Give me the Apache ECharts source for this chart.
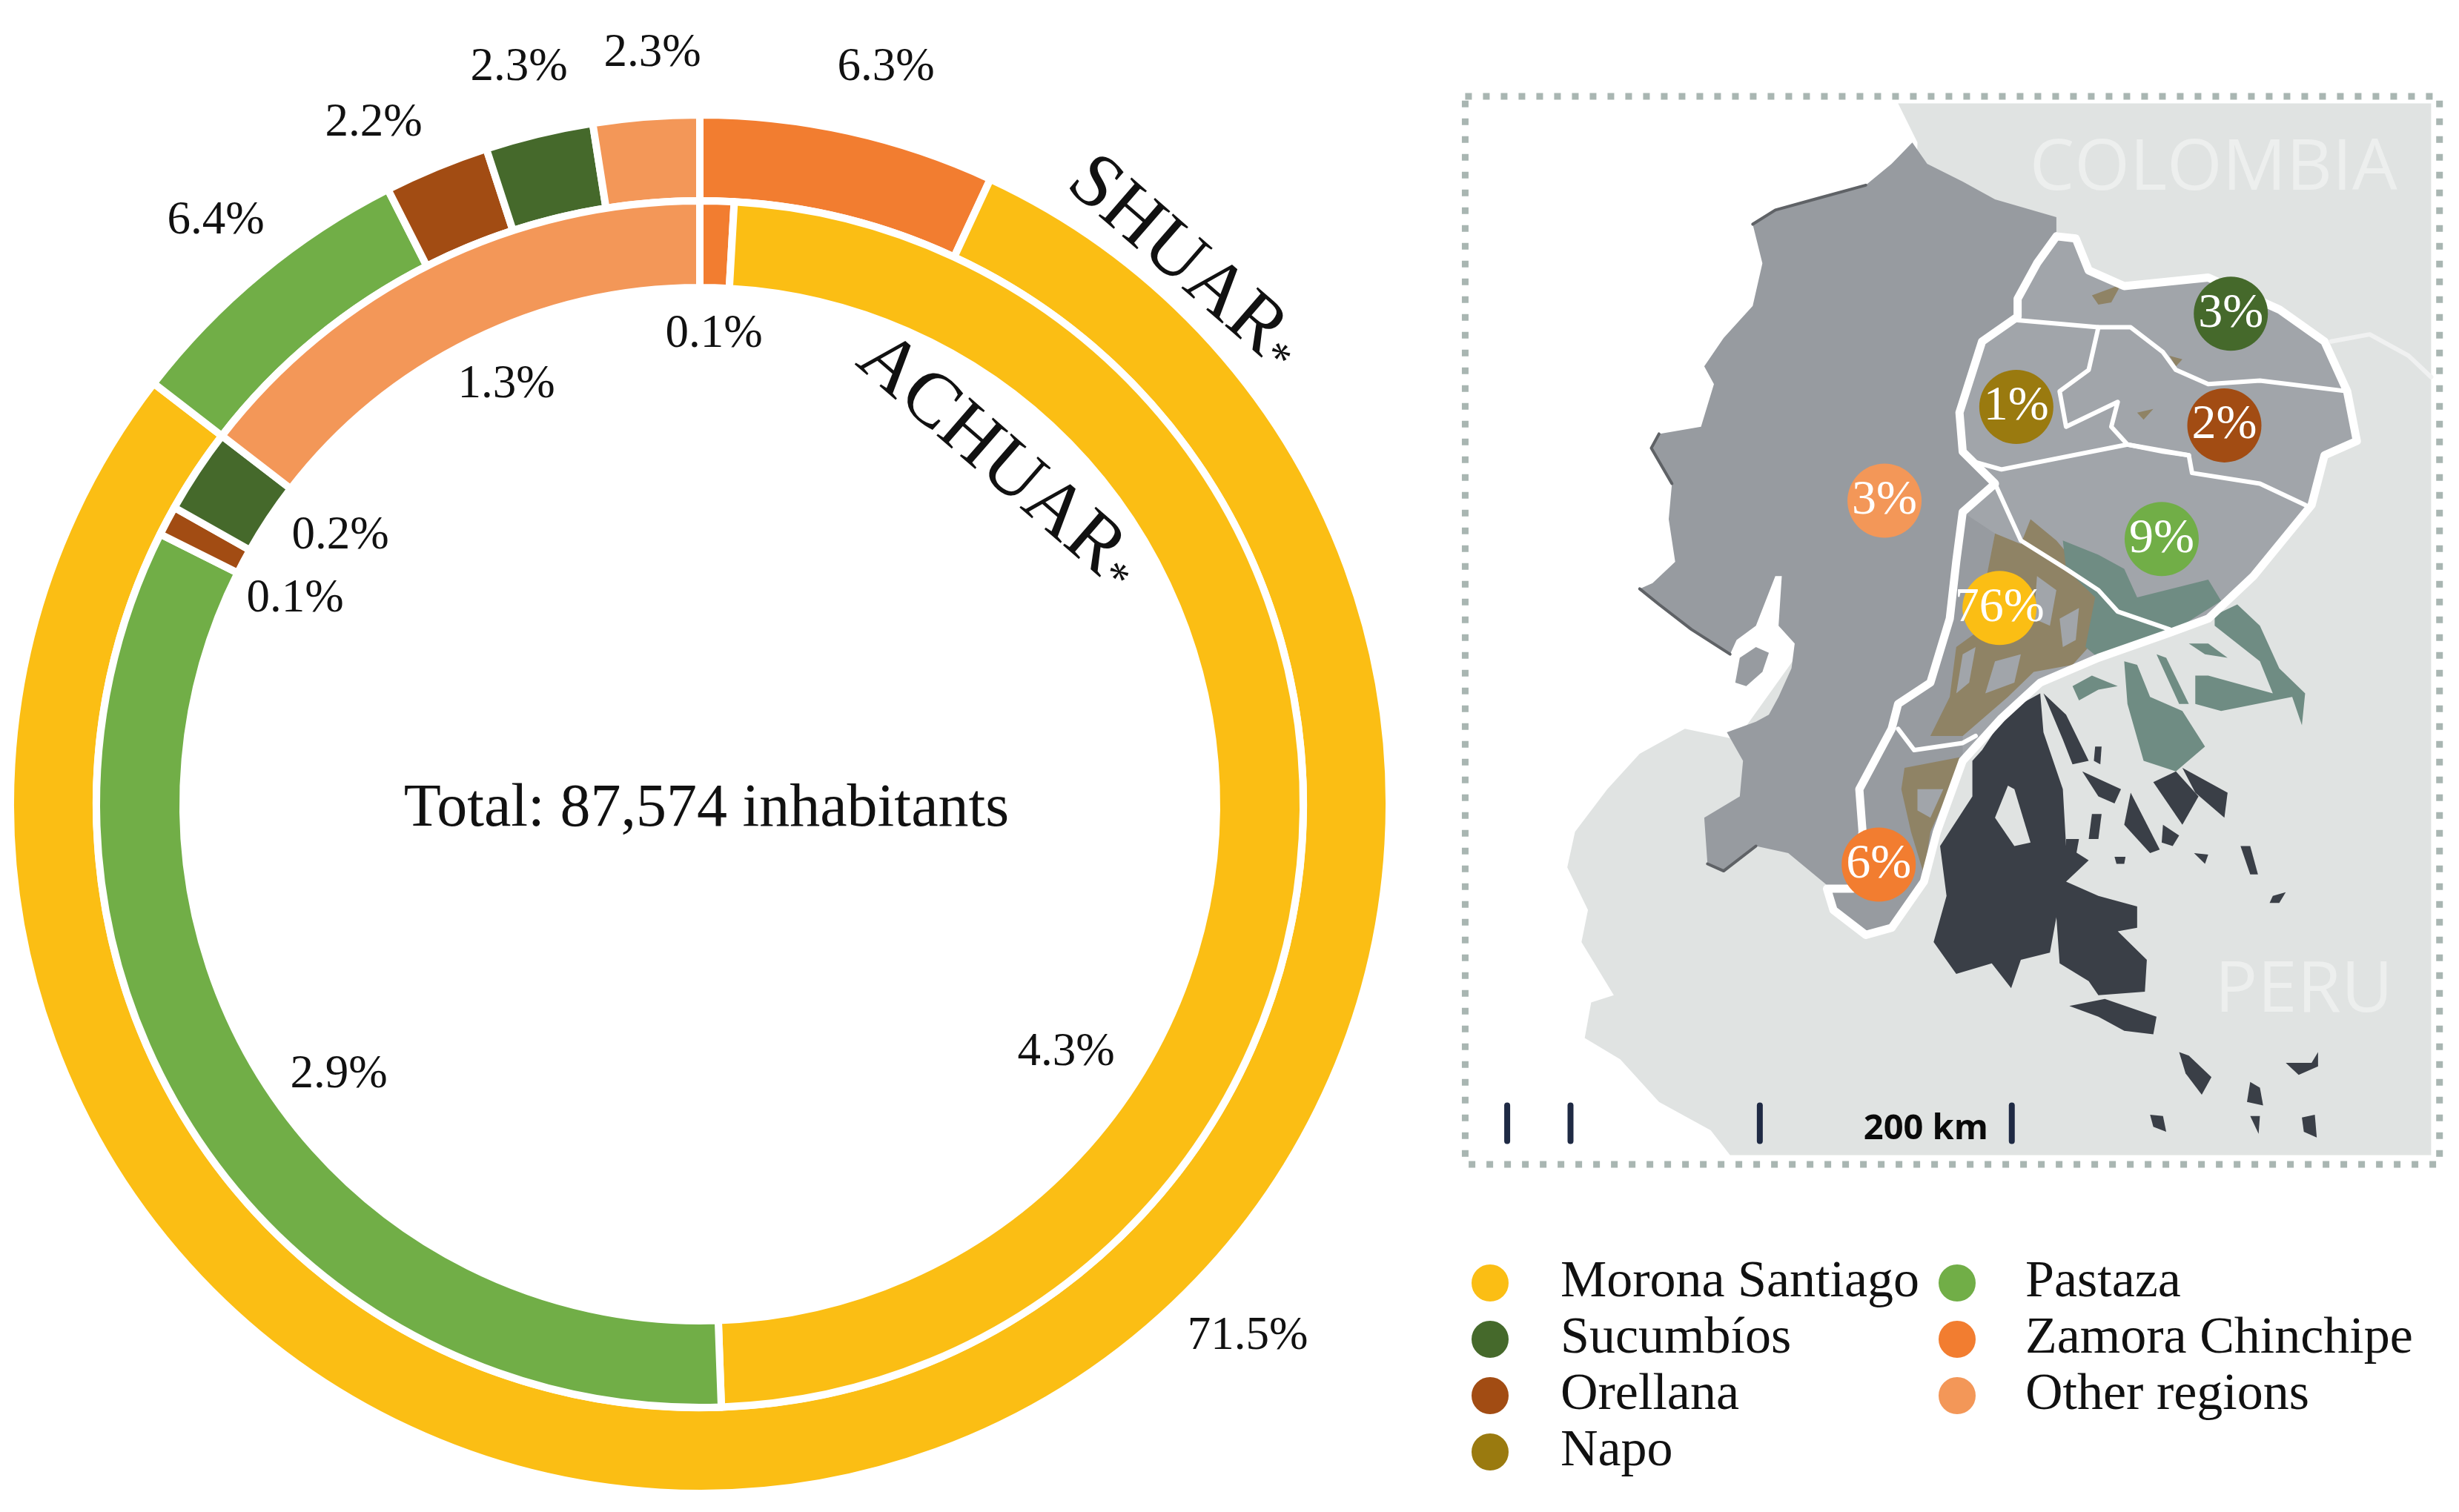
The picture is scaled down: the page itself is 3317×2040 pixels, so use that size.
<!DOCTYPE html>
<html><head><meta charset="utf-8">
<style>html,body{margin:0;padding:0;background:#fff}#c{width:3317px;height:2040px}</style>
<script src="https://cdn.jsdelivr.net/npm/echarts@6/dist/echarts.min.js"></script>
</head><body><div id="c"></div>
<script>
// ---------- chart data ----------
const regions = ['Zamora Chinchipe','Morona Santiago','Pastaza','Orellana','Sucumbíos','Other regions','Napo'];
const shuarValues  = [6.3, 71.46, 6.44, 2.24, 2.3, 2.26, 0];
const achuarValues = [0.08, 4.27, 2.9, 0.07, 0.2, 1.28, 0];
const mapRegions = ['Sucumbíos','Napo','Orellana','Other regions','Pastaza','Morona Santiago','Zamora Chinchipe'];
const mapPercent = [3, 1, 2, 3, 9, 76, 6];
const mapX = [1205, 873, 1195, 669, 1098, 847, 660];
const mapY = [331, 462, 488, 594, 648, 745, 1106];
const legendCol1 = ['Morona Santiago','Sucumbíos','Orellana','Napo'];
const legendCol2 = ['Pastaza','Zamora Chinchipe','Other regions'];
const totalLabel = 'Total: 87,574 inhabitants';

// ---------- styling ----------
const palette = {'Morona Santiago':'#FBBE14','Pastaza':'#71AE47','Sucumbíos':'#45692B','Orellana':'#A24C13','Napo':'#9A7A0F','Zamora Chinchipe':'#F27D30','Other regions':'#F39758'};
const SERIF = '"Liberation Serif", serif';
const SANS = '"Open Sans", sans-serif';
const shuarLabelPos  = [[1195,91],[1683,1803],[291,298],[504,166],[700,91],[880,72]];
const achuarLabelPos = [[963,451],[1438,1420],[457,1450],[398,808],[459,723],[683,519]];

// ---------- base map traced in a 1557 x 1554 map space ----------
const LAND='#E0E3E2', GREY='#979BA0', GREY2='#A1A5AA', TAN='#8F8365', TEAL='#6F8C83', DARK='#3A3F47';
const mapFills = [
 [LAND,[[690,35],[1515,35],[1515,1515],[430,1515],[400,1480],[320,1440],[260,1380],[205,1350],[215,1300],[250,1290],[200,1215],[210,1170],[178,1110],[190,1060],[240,1000],[290,950],[360,915],[440,930],[700,600],[720,90]]],
 [GREY,[[712,90],[680,120],[640,150],[560,170],[500,185],[465,205],[480,260],[465,320],[420,365],[390,405],[405,430],[385,490],[320,500],[308,520],[340,570],[335,620],[345,680],[310,710],[290,718],[320,740],[370,775],[430,810],[440,790],[470,770],[500,700],[510,700],[505,770],[530,795],[525,830],[505,870],[490,895],[470,905],[425,920],[450,960],[445,1010],[390,1040],[395,1105],[420,1115],[470,1080],[520,1090],[580,1135],[590,1170],[640,1200],[680,1195],[730,1130],[750,1060],[790,960],[850,900],[910,850],[1000,815],[1110,780],[1170,760],[1240,700],[1330,600],[1350,530],[1400,510],[1380,430],[1355,370],[1280,325],[1170,280],[1040,290],[990,275],[970,225],[935,220],[935,195],[840,170],[790,145],[735,120]]],
 [GREY2,[[935,222],[965,225],[985,270],[1040,292],[1170,280],[1280,325],[1350,370],[1385,440],[1400,510],[1350,530],[1330,600],[1240,700],[1170,760],[1110,780],[1000,815],[910,850],[850,900],[790,960],[790,880],[840,640],[790,610],[840,570],[790,525],[785,470],[820,370],[875,335],[875,310],[905,260]]],
 ['#FFFFFF',[[440,810],[470,790],[505,800],[500,830],[470,855],[440,860],[432,835]]],
 [GREY,[[445,815],[470,800],[490,808],[480,835],[455,855],[438,850]]],
 // tan patches
 [TAN,[[895,620],[935,650],[1000,720],[985,800],[960,825],[900,835],[860,870],[790,925],[740,925],[770,870],[780,800],[810,780],[840,640],[880,655]]],
 [TAN,[[700,970],[785,955],[770,1000],[740,1060],[730,1120],[710,1060],[695,1000]]],
 [TAN,[[990,305],[1035,290],[1020,315],[1000,318]]],
 [TAN,[[1060,470],[1085,465],[1070,480]]],
 [TAN,[[1110,390],[1130,395],[1120,405]]],
 [GREY2,[[905,700],[935,720],[925,770],[900,760]]],
 [GREY2,[[840,820],[880,810],[870,850],[825,865]]],
 [GREY2,[[940,760],[970,745],[965,790],[945,800]]],
 [GREY2,[[790,810],[810,800],[800,850],[780,865]]],
 [GREY2,[[720,1000],[760,1000],[740,1040],[720,1030]]],
 // teal
 [TEAL,[[945,650],[1000,670],[1040,690],[1060,730],[1170,705],[1190,735],[1120,775],[1000,815],[980,800],[995,730],[950,690]]],
 [TEAL,[[1180,755],[1215,740],[1250,770],[1280,830],[1320,865],[1315,910],[1300,870],[1190,890],[1150,880],[1150,840],[1170,840],[1270,865],[1250,820],[1180,770]]],
 [TEAL,[[1040,820],[1060,825],[1080,870],[1130,890],[1165,940],[1120,975],[1070,960],[1045,880]]],
 [TEAL,[[1090,810],[1105,815],[1140,880],[1125,880]]],
 [TEAL,[[960,855],[990,840],[1030,855],[1000,860],[970,875]]],
 [TEAL,[[1140,795],[1170,795],[1200,815],[1165,810]]],
 // dark blocks
 [DARK,[[820,945],[860,890],[910,865],[915,920],[945,1000],[950,1080],[985,1100],[950,1130],[1000,1150],[1060,1165],[1060,1195],[1030,1200],[1075,1240],[1072,1285],[1000,1290],[985,1270],[940,1245],[935,1180],[925,1230],[880,1240],[865,1280],[835,1245],[780,1260],[745,1215],[765,1150],[755,1080],[805,1010],[805,960]]],
 [LAND,[[860,995],[870,1000],[895,1075],[870,1080],[840,1040]]],
 [DARK,[[955,1305],[1010,1295],[1090,1320],[1085,1345],[1040,1340],[1000,1320]]],
 [DARK,[[915,865],[950,895],[985,960],[960,965],[945,930]]],
 [DARK,[[975,975],[1035,1000],[1025,1020],[1000,1010]]],
 [DARK,[[1050,1005],[1095,1085],[1080,1090],[1040,1050]]],
 [DARK,[[1085,990],[1120,975],[1155,1010],[1130,1050]]],
 [DARK,[[1130,970],[1200,1005],[1195,1040],[1150,1005]]],
 [DARK,[[990,1035],[1005,1035],[1000,1070],[985,1070]]],
 [DARK,[[1100,1050],[1125,1065],[1115,1080],[1098,1075]]],
 [DARK,[[950,1070],[970,1070],[965,1095],[950,1095]]],
 [DARK,[[1025,1095],[1042,1095],[1040,1105],[1028,1105]]],
 [DARK,[[1148,1090],[1170,1092],[1165,1105]]],
 [DARK,[[1220,1080],[1235,1080],[1247,1120],[1235,1120]]],
 [DARK,[[1270,1150],[1290,1145],[1280,1160],[1265,1160]]],
 [DARK,[[1125,1370],[1140,1375],[1175,1405],[1160,1430],[1135,1400]]],
 [DARK,[[1235,1412],[1250,1420],[1255,1445],[1230,1440]]],
 [DARK,[[1290,1385],[1330,1385],[1340,1370],[1340,1390],[1310,1402]]],
 [DARK,[[1080,1458],[1100,1460],[1105,1482],[1085,1475]]],
 [DARK,[[1235,1460],[1250,1460],[1248,1485]]],
 [DARK,[[1315,1462],[1335,1458],[1338,1490],[1318,1482]]],
 [DARK,[[995,940],[1005,940],[1003,965],[993,960]]]
];
const mapLines = [
 ['#5F6266',4,[[465,205],[500,185],[560,170],[640,150]]],
 ['#5F6266',4,[[320,500],[308,520],[340,570]]],
 ['#5F6266',4,[[290,718],[320,740],[370,775],[430,810]]],
 ['#5F6266',4,[[395,1105],[420,1115],[470,1080]]],
 ['#FFFFFF',11,[[935,222],[965,225],[985,270],[1040,292],[1170,280],[1280,325],[1350,370],[1385,440],[1400,510],[1350,530],[1330,600],[1240,700],[1170,760],[1110,780],[1000,815],[910,850],[850,900],[790,960],[750,1060],[730,1130],[680,1195],[640,1205],[590,1170],[580,1140],[620,1140],[635,1060],[630,1000],[680,915],[690,880],[740,850],[770,760],[780,680],[790,610],[840,570],[790,525],[785,470],[820,370],[875,335],[875,310],[905,260],[935,222]]],
 ['#FFFFFF',6,[[875,340],[1000,350],[1050,350],[1100,385],[1120,410],[1170,430],[1250,425],[1385,440]]],
 ['#FFFFFF',6,[[1000,350],[985,410],[940,440],[950,490],[1030,455],[1020,490],[1045,515],[1140,530]]],
 ['#FFFFFF',6,[[810,540],[850,550],[1045,515],[1100,525],[1140,530],[1145,555],[1250,570],[1320,600]]],
 ['#FFFFFF',6,[[840,570],[880,650],[950,690],[1000,720],[1030,750],[1110,775]]],
 ['#FFFFFF',6,[[690,915],[715,945],[790,935],[810,925]]],
 ['#F0F1F1',6,[[1360,370],[1420,360],[1480,390],[1515,420]]],
 ['#1F2A44',8,[[85,1445],[85,1495]]],['#1F2A44',8,[[183,1445],[183,1495]]],
 ['#1F2A44',8,[[476,1445],[476,1495]]],['#1F2A44',8,[[866,1445],[866,1495]]]
];
const mapBox = [[20,25],[1528,25],[1528,1528],[20,1528],[20,25]];
const mapWords = [
 ['COLOMBIA',1178,128,'rgba(255,255,255,0.42)',SANS,'normal',96],
 ['PERU',1318,1285,'rgba(255,255,255,0.42)',SANS,'normal',96],
 ['200 km',733,1478,'#0A0A0A',SANS,'bold',47]
];

const baseItems = [];
mapFills.forEach(f=>baseItems.push({k:'fill',c:f[0],p:f[1]}));
mapLines.forEach(l=>baseItems.push({k:'line',c:l[0],w:l[1],p:l[2]}));
baseItems.push({k:'box',c:'#A9B6B2',w:9,p:mapBox});
mapWords.forEach(t=>baseItems.push({k:'text',t:t}));

function renderBase(params, api){
  const it = baseItems[api.value(0)];
  if(it.k==='text'){
    const pt = api.coord([it.t[1],it.t[2]]);
    return {type:'text',x:pt[0],y:pt[1],style:{text:it.t[0],fill:it.t[3],font:it.t[5]+' '+it.t[6]+'px '+it.t[4],textAlign:'center',textVerticalAlign:'middle'}};
  }
  const pts = it.p.map(p=>api.coord(p));
  if(it.k==='fill') return {type:'polygon',shape:{points:pts},style:{fill:it.c}};
  return {type:'polyline',shape:{points:pts},style:{fill:null,stroke:it.c,lineWidth:it.w,lineJoin:'round',lineCap:it.k==='box'?'butt':'round',lineDash:it.k==='box'?[9,15]:null}};
}

function ringSeries(name, values, radius, pos){
  return {
    type:'pie', name, center:[944,1085], radius, startAngle:90, clockwise:true, silent:true, animation:false,
    itemStyle:{borderColor:'#fff',borderWidth:10},
    avoidLabelOverlap:false,
    label:{show:true,position:'inside',color:'#111',fontFamily:SERIF,fontSize:63,
      formatter:p=>p.value>0?p.value.toFixed(1)+'%':''},
    labelLine:{show:false},
    labelLayout:p=>{const q=pos[p.dataIndex];return q?{x:q[0],y:q[1],align:'center',verticalAlign:'middle'}:{};},
    data:regions.map((r,i)=>({name:r,value:values[i],itemStyle:{color:palette[r]}}))
  };
}
const legendBase = {orient:'vertical',icon:'circle',itemWidth:52,itemHeight:52,itemGap:6,selectedMode:false,
  textStyle:{fontFamily:SERIF,fontSize:70,color:'#111'}};

const chart = echarts.init(document.getElementById('c'),null,{renderer:'canvas',width:3317,height:2040});
chart.setOption({
  animation:false, backgroundColor:'#fff',
  title:{text:totalLabel,left:948,top:1087,textAlign:'center',textVerticalAlign:'middle',
    textStyle:{fontFamily:SERIF,fontSize:82,fontWeight:'normal',color:'#111'}},
  legend:[
    Object.assign({},legendBase,{data:legendCol1,left:1978,top:1691,textStyle:Object.assign({},legendBase.textStyle,{padding:[0,0,0,64]})}),
    Object.assign({},legendBase,{data:legendCol2,left:2608,top:1691,textStyle:Object.assign({},legendBase.textStyle,{padding:[0,0,0,61]})})
  ],
  grid:{left:1959,top:106,width:1357,height:1490,containLabel:false},
  xAxis:{type:'value',min:0,max:1557,show:false},
  yAxis:{type:'value',min:0,max:1554,inverse:true,show:false},
  graphic:[
    {type:'text',x:1598,y:356,rotation:-41*Math.PI/180,z:10,style:{text:'{a|SHUAR}{b|*}',textAlign:'center',textVerticalAlign:'middle',fill:'#111',
      rich:{a:{fontFamily:SERIF,fontSize:104,fill:'#111'},b:{fontFamily:SERIF,fontSize:60,fill:'#111',padding:[34,0,0,0]}}}},
    {type:'text',x:1347,y:624,rotation:-41*Math.PI/180,z:10,style:{text:'{a|ACHUAR}{b|*}',textAlign:'center',textVerticalAlign:'middle',fill:'#111',
      rich:{a:{fontFamily:SERIF,fontSize:104,fill:'#111'},b:{fontFamily:SERIF,fontSize:60,fill:'#111',padding:[34,0,0,0]}}}}
  ],
  series:[
    {type:'custom',silent:true,clip:false,renderItem:renderBase,data:baseItems.map((_,i)=>[i]),encode:{x:[],y:[]},z:1},
    {type:'scatter',silent:true,symbol:'circle',symbolSize:100,z:5,
      data:mapRegions.map((r,i)=>({name:r,value:[mapX[i],mapY[i],mapPercent[i]],itemStyle:{color:palette[r],opacity:1}})),
      label:{show:true,position:'inside',color:'#fff',fontFamily:SERIF,fontSize:66,formatter:p=>p.value[2]+'%'}},
    ringSeries('Shuar',shuarValues,[814,930],shuarLabelPos),
    ringSeries('Achuar',achuarValues,[697,814],achuarLabelPos)
  ]
});
</script></body></html>
